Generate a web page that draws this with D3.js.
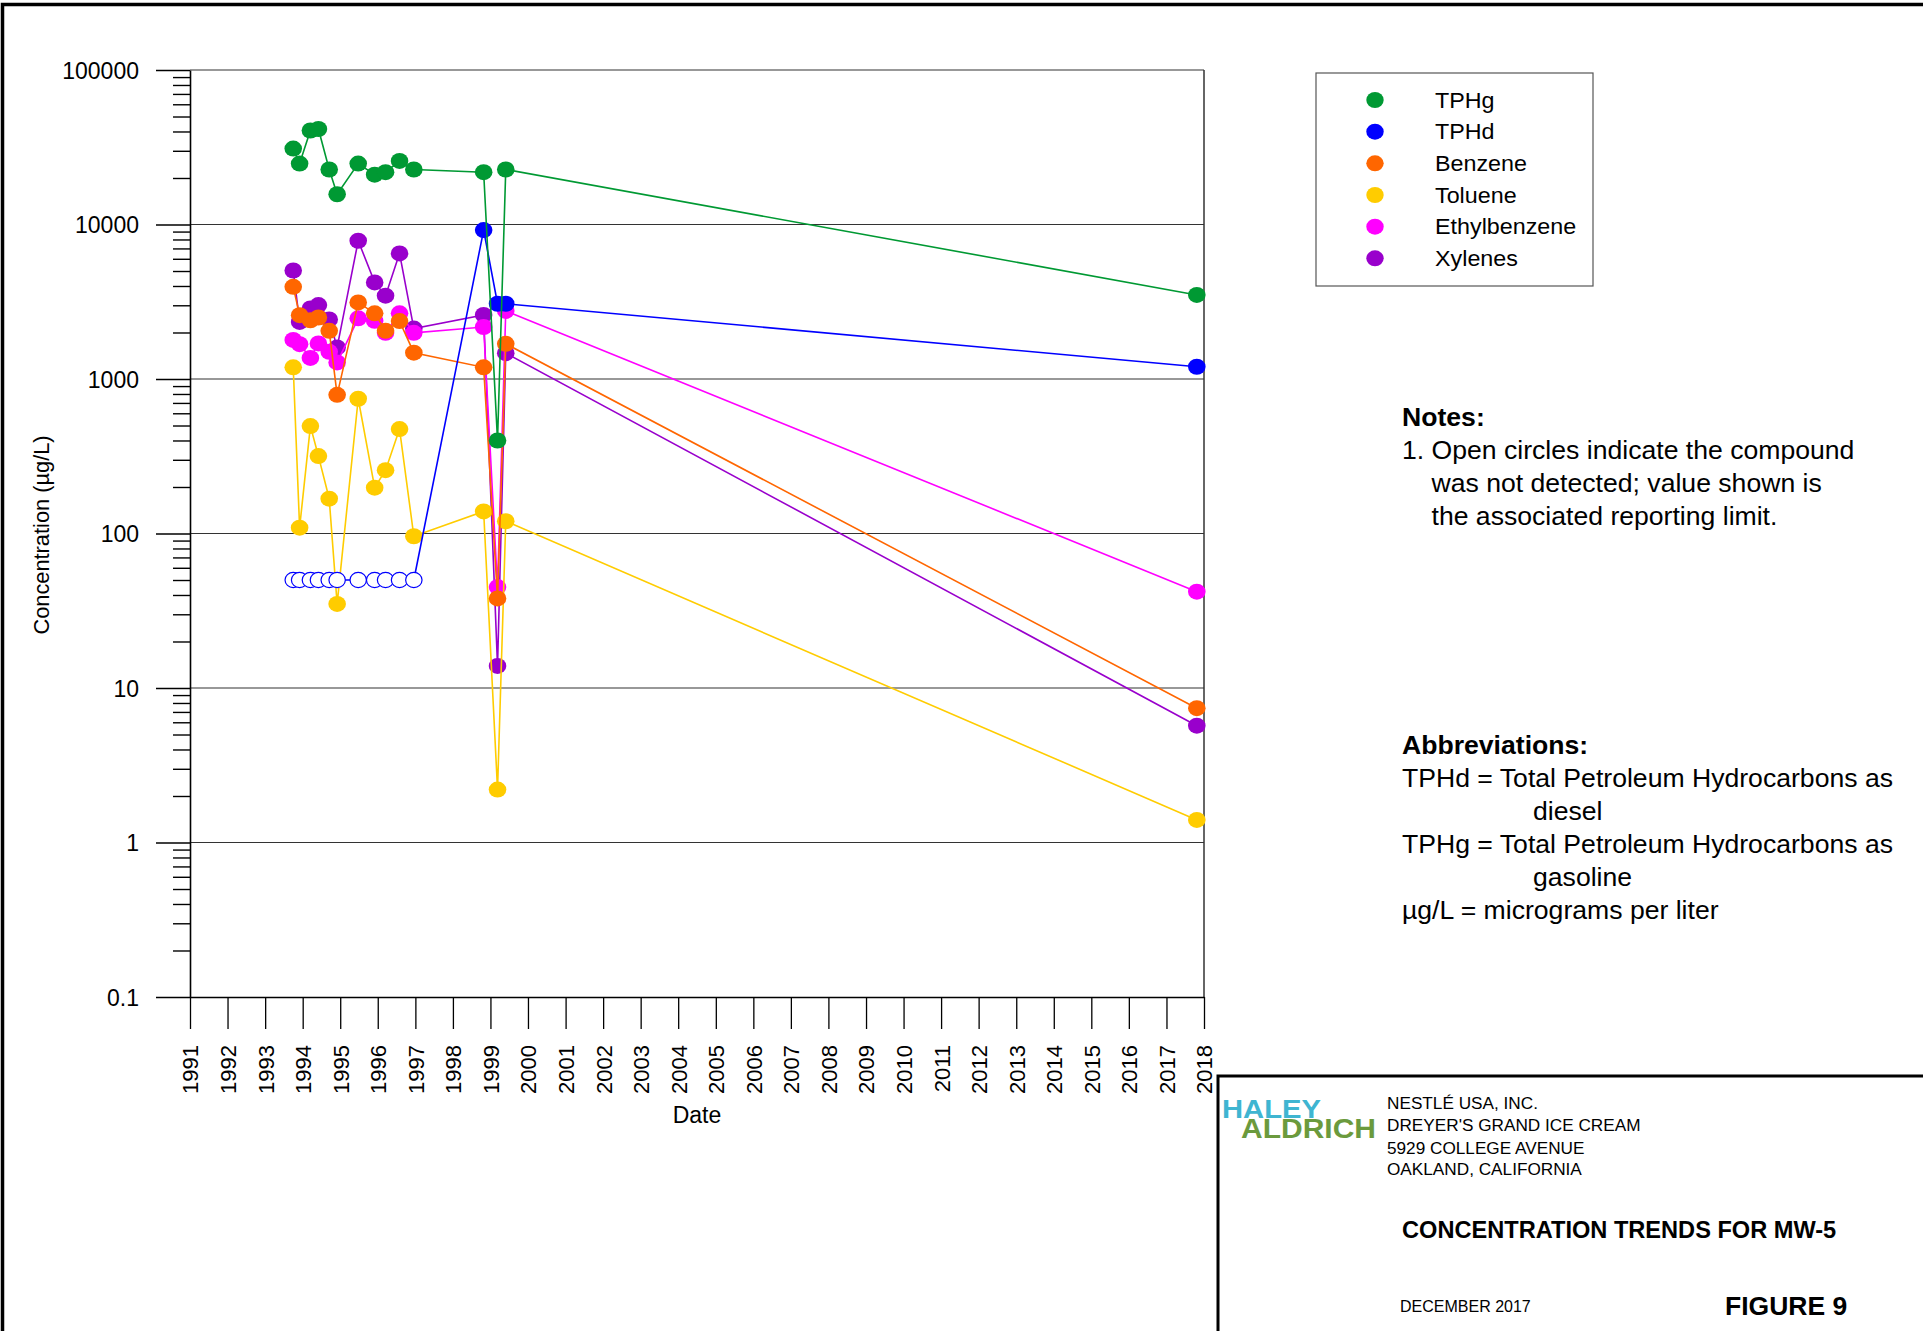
<!DOCTYPE html>
<html>
<head>
<meta charset="utf-8">
<script src="https://cdn.jsdelivr.net/npm/d3@7"></script>
<style>
html,body{margin:0;padding:0;background:#fff;overflow:hidden}
svg{display:block}
</style>
</head>
<body>
<svg id="chart" width="1923" height="1331"></svg>
<script>
// ---------------- DATA ----------------
const sampleDates = ["1993-10-01","1993-12-02","1994-03-17","1994-06-03","1994-09-16","1994-12-02",
  "1995-06-25","1995-12-02","1996-03-17","1996-07-31","1996-12-17","1998-10-27","1999-03-11",
  "1999-05-30","2017-10-23"];
const tphg         = [31000,24800,40600,41500,22700,15700,24800,21000,21800,25800,22700,21800,400,22700,3500];
const tphd         = [50,50,50,50,50,50,50,50,50,50,50,9200,3070,3070,1200];
const tphdNotDetected = [true,true,true,true,true,true,true,true,true,true,true,false,false,false,false];
const benzene      = [3950,2590,2400,2500,2050,790,3130,2660,2050,2370,1480,1190,38,1690,7.4];
const toluene      = [1190,109,496,317,168,35,745,198,257,474,96,139,2.2,120,1.4];
const ethylbenzene = [1790,1680,1370,1700,1500,1280,2470,2380,1990,2660,1990,2170,45,2760,42];
const xylenes      = [5040,2340,2860,3010,2430,1600,7850,4220,3460,6500,2120,2600,13.9,1470,5.7];

const seriesNames  = ["TPHg","TPHd","Benzene","Toluene","Ethylbenzene","Xylenes"];
const seriesColors = ["#009933","#0000ff","#ff6600","#ffcc00","#ff00ff","#9900cc"];

const yTickValues = [0.1,1,10,100,1000,10000,100000];
const yTickLabels = ["0.1","1","10","100","1000","10000","100000"];
const xTickYears  = d3.range(1991, 2019);

const notesLines = ["1. Open circles indicate the compound","was not detected; value shown is","the associated reporting limit."];
const abbrevLines = [
  {t:"TPHd = Total Petroleum Hydrocarbons as", indent:false},
  {t:"diesel", indent:true},
  {t:"TPHg = Total Petroleum Hydrocarbons as", indent:false},
  {t:"gasoline", indent:true},
  {t:"\u00b5g/L = micrograms per liter", indent:false}
];
const clientLines = ["NESTL\u00c9 USA, INC.","DREYER'S GRAND ICE CREAM","5929 COLLEGE AVENUE","OAKLAND, CALIFORNIA"];

// ---------------- SETUP ----------------
const FONT = "'Liberation Sans', Arial, Helvetica, sans-serif";
const svg = d3.select("#chart").style("font-family", FONT);
const parse = d3.timeParse("%Y-%m-%d");
const dates = sampleDates.map(parse);

const plot = {left:190, right:1204, top:70, bottom:997};
const x = d3.scaleTime().domain([new Date(1991,0,1), new Date(2018,0,1)]).range([plot.left, plot.right]);
const y = d3.scaleLog().domain([0.1, 100000]).range([plot.bottom, plot.top]);

// outer figure border
svg.append("path").attr("d","M2.5,1345 V4.5 H1935").attr("fill","none").attr("stroke","#000").attr("stroke-width",3.5);

// gridlines (decades) and right frame
svg.append("g").selectAll("line").data(yTickValues.slice(1)).join("line")
  .attr("x1",plot.left).attr("x2",plot.right)
  .attr("y1",d=>y(d)).attr("y2",d=>y(d))
  .attr("stroke","#333").attr("stroke-width",1.2);
svg.append("line").attr("x1",plot.right).attr("x2",plot.right).attr("y1",y(100000)).attr("y2",y(0.1))
  .attr("stroke","#333").attr("stroke-width",1.5);

// minor y ticks
const minors = [];
for (let e=-1;e<=4;e++) for (let m=2;m<=9;m++) minors.push(m*Math.pow(10,e));
const yMinor = svg.append("g").attr("transform",`translate(${plot.left},0)`)
  .call(d3.axisLeft(y).tickValues(minors).tickSize(17).tickFormat(""));
yMinor.select(".domain").remove();
yMinor.selectAll("line").attr("stroke","#000").attr("stroke-width",1.4);

// major y axis
const yAx = svg.append("g").attr("transform",`translate(${plot.left},0)`)
  .call(d3.axisLeft(y).tickValues(yTickValues).tickSize(34).tickSizeOuter(0).tickPadding(17)
    .tickFormat(d=>yTickLabels[yTickValues.indexOf(d)]));
yAx.select(".domain").attr("stroke","#000").attr("stroke-width",1.6);
yAx.selectAll("line").attr("stroke","#000").attr("stroke-width",1.6);
yAx.selectAll("text").attr("font-size",23).attr("font-family",FONT).attr("fill","#000").attr("dy","0.36em");

// x axis
const xAx = svg.append("g").attr("transform",`translate(0,${plot.bottom})`)
  .call(d3.axisBottom(x).tickValues(xTickYears.map(yr=>new Date(yr,0,1))).tickSize(32).tickSizeOuter(0)
    .tickFormat(d3.timeFormat("%Y")));
xAx.select(".domain").attr("stroke","#000").attr("stroke-width",1.6);
xAx.selectAll("line").attr("stroke","#000").attr("stroke-width",1.3);
xAx.selectAll("text")
  .attr("font-size",22).attr("font-family",FONT).attr("fill","#000")
  .attr("transform","rotate(-90)").attr("x",-48).attr("y",0).attr("dy","0.36em").attr("text-anchor","end");

// axis titles
svg.append("text").attr("transform","translate(41,535) rotate(-90)")
  .attr("text-anchor","middle").attr("dy","0.35em").attr("font-size",21.8).text("Concentration (\u00b5g/L)");
svg.append("text").attr("x",697).attr("y",1123).attr("text-anchor","middle").attr("font-size",23).text("Date");

// ---------------- SERIES ----------------
const seriesValues = [tphg, tphd, benzene, toluene, ethylbenzene, xylenes];
const line = d3.line().x(d=>x(d.date)).y(d=>y(d.value));
const drawOrder = [5,4,3,2,1,0];
drawOrder.forEach(si=>{
  const vals = seriesValues[si];
  const pts = vals.map((v,i)=>({date:dates[i], value:v, nd: si===1 ? tphdNotDetected[i] : false}));
  const g = svg.append("g");
  g.append("path").datum(pts).attr("d",line).attr("fill","none")
    .attr("stroke",seriesColors[si]).attr("stroke-width",1.6);
  g.selectAll("ellipse").data(pts).join("ellipse")
    .attr("cx",d=>x(d.date)).attr("cy",d=>y(d.value))
    .attr("rx",d=>d.nd?8.2:8.8).attr("ry",d=>d.nd?7.6:8)
    .attr("fill",d=>d.nd?"#fff":seriesColors[si])
    .attr("stroke",d=>d.nd?seriesColors[si]:"none")
    .attr("stroke-width",1.2);
});

// ---------------- LEGEND ----------------
const lg = svg.append("g");
lg.append("rect").attr("x",1316).attr("y",73).attr("width",277).attr("height",213)
  .attr("fill","#fff").attr("stroke","#555").attr("stroke-width",1.2);
seriesNames.forEach((n,i)=>{
  const cy = 100 + i*31.66;
  lg.append("ellipse").attr("cx",1375).attr("cy",cy).attr("rx",8.7).attr("ry",8).attr("fill",seriesColors[i]);
  lg.append("text").attr("transform",`translate(1435,${cy+7.7}) scale(1.06,1)`)
    .attr("font-size",22).attr("fill","#000").text(n);
});

// ---------------- NOTES ----------------
const nt = svg.append("g").attr("fill","#000");
nt.append("text").attr("x",1402).attr("y",425.5).attr("font-size",26.6).attr("font-weight","bold").text("Notes:");
notesLines.forEach((t,i)=>{
  nt.append("text").attr("x", i===0?1402:1431.5).attr("y",458.5+i*33).attr("font-size",26.6).text(t);
});
nt.append("text").attr("x",1402).attr("y",753.5).attr("font-size",26.6).attr("font-weight","bold").text("Abbreviations:");
abbrevLines.forEach((a,i)=>{
  nt.append("text").attr("x", a.indent?1533:1402).attr("y",786.5+i*33).attr("font-size",26.6).text(a.t);
});

// ---------------- TITLE BLOCK ----------------
svg.append("path").attr("d","M1218,1345 V1076 H1935").attr("fill","none").attr("stroke","#000").attr("stroke-width",3);
const logo = svg.append("text").attr("font-weight","bold");
logo.append("tspan").attr("x",1222).attr("y",1118).attr("font-size",26)
  .attr("textLength",99).attr("lengthAdjust","spacingAndGlyphs").attr("fill","#3fb5d1").text("HALEY");
logo.append("tspan").attr("x",1241).attr("y",1138).attr("font-size",27)
  .attr("textLength",135).attr("lengthAdjust","spacingAndGlyphs").attr("fill","#6b9a3d").text("ALDRICH");
clientLines.forEach((t,i)=>{
  svg.append("text").attr("x",1387).attr("y",[1108.5,1130.6,1153.5,1174.8][i]).attr("font-size",17.2).attr("fill","#000").text(t);
});
svg.append("text").attr("x",1402).attr("y",1238).attr("font-size",23.6).attr("font-weight","bold").text("CONCENTRATION TRENDS FOR MW-5");
svg.append("text").attr("x",1400).attr("y",1312).attr("font-size",16).text("DECEMBER 2017");
svg.append("text").attr("x",1725).attr("y",1315).attr("font-size",26.5).attr("font-weight","bold").text("FIGURE 9");
</script>
</body>
</html>
